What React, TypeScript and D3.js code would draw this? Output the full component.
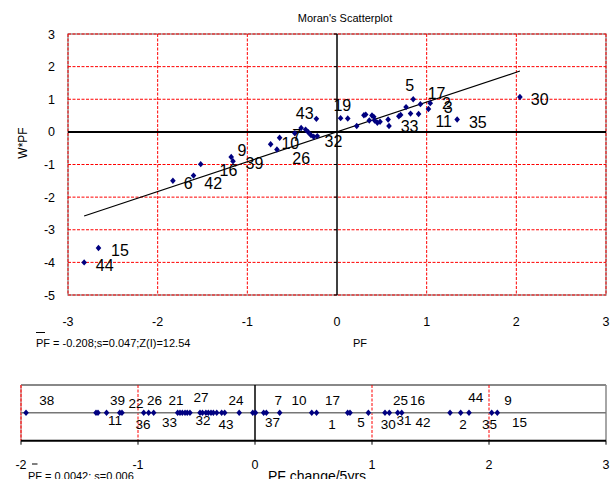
import React from "react";
import * as d3 from "d3";

// ---------- data ----------
const pfValues = [-2.82, -2.66, -1.83, -1.6, -1.52, -1.18, -1.16, -0.74, -0.67, -0.64, -0.47, -0.4, -0.35, -0.32, -0.29, -0.26, -0.22, -0.23, 0.04, 0.12, 0.22, 0.3, 0.32, 0.36, 0.39, 0.41, 0.42, 0.45, 0.48, 0.57, 0.58, 0.69, 0.71, 0.77, 0.82, 0.85, 0.91, 0.93, 1.02, 1.04, 1.34, 2.04];
const wpfValues = [-4.0, -3.56, -1.5, -1.34, -0.99, -0.77, -0.9, -0.38, -0.54, -0.18, -0.04, 0.12, 0.07, -0.01, -0.1, -0.15, -0.13, 0.4, 0.42, 0.41, 0.18, 0.51, 0.53, 0.35, 0.5, 0.46, 0.35, 0.28, 0.31, 0.38, 0.18, 0.48, 0.52, 0.76, 0.56, 1.0, 0.55, 0.85, 0.7, 0.88, 0.38, 1.07];
const moranSlope = 0.914;

// labels of the scatter (text, position in data units)
const scatterLabelText = ["44", "15", "6", "42", "16", "9", "39", "10", "26", "7", "43", "32", "19", "5", "17", "2", "3", "11", "33", "35", "30"];
const scatterLabelX = [-2.59, -2.42, -1.66, -1.38, -1.21, -1.06, -0.92, -0.52, -0.4, -0.45, -0.36, -0.04, 0.06, 0.81, 1.11, 1.22, 1.24, 1.19, 0.81, 1.57, 2.26];
const scatterLabelY = [-4.08, -3.62, -1.57, -1.57, -1.19, -0.56, -0.96, -0.36, -0.81, -0.1, 0.58, -0.28, 0.82, 1.43, 1.19, 0.88, 0.74, 0.34, 0.17, 0.31, 0.99];

const xTicksTop = [-3, -2, -1, 0, 1, 2, 3];
const yTicksTop = [3, 2, 1, 0, -1, -2, -3, -4, -5];

// PF change / 5yrs strip
const changeValues = [-1.957, -1.359, -1.342, -1.269, -1.156, -1.137, -0.951, -0.909, -0.866, -0.661, -0.641, -0.621, -0.598, -0.579, -0.556, -0.47, -0.449, -0.42, -0.399, -0.376, -0.356, -0.327, -0.285, -0.259, -0.135, -0.019, 0.004, 0.074, 0.097, 0.211, 0.485, 0.526, 0.792, 0.812, 0.969, 1.111, 1.148, 1.22, 1.254, 1.667, 1.758, 1.829, 2.023, 2.071];
const stripLabelText = ["38", "39", "22", "26", "21", "27", "24", "7", "10", "17", "25", "16", "44", "9", "11", "36", "33", "32", "43", "37", "1", "5", "30", "31", "42", "2", "35", "15"];
const stripLabelAt = [-1.78, -1.175, -1.017, -0.859, -0.675, -0.462, -0.162, 0.199, 0.376, 0.662, 1.244, 1.389, 1.887, 2.162, -1.197, -0.957, -0.731, -0.444, -0.248, 0.15, 0.658, 0.906, 1.139, 1.274, 1.436, 1.778, 2.004, 2.261];
// vertical offset of each label from the strip line (px)
const stripLabelDy = [-13, -13, -9.5, -13, -13, -16, -13, -13, -13, -13, -13, -13, -16, -13, 7, 11, 9, 7, 11.5, 9, 11, 9, 11, 7, 9, 11, 11, 9];
const stripTicks = [-2, -1, 0, 1, 2, 3];

const FONT = "'Liberation Sans', Arial, sans-serif";
const RED = "#ff0000";
const NAVY = "#000080";

function diamond(x: number, y: number) {
  return `M${x},${y - 3.2}L${x + 2.8},${y}L${x},${y + 3.2}L${x - 2.8},${y}Z`;
}

export default function App() {
  const xTop = d3.scaleLinear().domain([-3, 3]).range([68, 606]);
  const yTop = d3.scaleLinear().domain([-5, 3]).range([295, 34]);
  const xStrip = d3.scaleLinear().domain([-2, 3]).range([21, 606]);
  const stripTop = 385;
  const stripMid = 412.7;
  const stripBottom = 440.7;

  const xMin = d3.min(pfValues) as number;
  const xMax = d3.max(pfValues) as number;
  const line = d3.line<number>().x((d) => xTop(d)).y((d) => yTop(moranSlope * d));

  return (
    <svg width={615} height={479} style={{ position: "absolute", left: 0, top: 0, background: "#fff" }} fontFamily={FONT}>
      <rect x={0} y={0} width={615} height={479} fill="#fff" />
      {/* title */}
      <text x={345} y={21.5} fontSize={11} textAnchor="middle">Moran's Scatterplot</text>

      {/* plot border */}
      <rect x={xTop(-3)} y={yTop(3)} width={xTop(3) - xTop(-3)} height={yTop(-5) - yTop(3)} fill="none" stroke="#999" strokeWidth={1.5} />
      {/* gridlines */}
      {xTicksTop.filter((t) => t !== 0).map((t) => (
        <line key={"gx" + t} x1={xTop(t)} x2={xTop(t)} y1={yTop(3)} y2={yTop(-5)} stroke={RED} strokeWidth={1} strokeDasharray="3,1.5" />
      ))}
      {yTicksTop.filter((t) => t !== 0).map((t) => (
        <line key={"gy" + t} x1={xTop(-3)} x2={xTop(3)} y1={yTop(t)} y2={yTop(t)} stroke={RED} strokeWidth={1} strokeDasharray="3,1.5" />
      ))}
      {/* axes through origin */}
      <line x1={xTop(0)} x2={xTop(0)} y1={yTop(3)} y2={yTop(-5)} stroke="#000" strokeWidth={1.5} />
      <line x1={xTop(-3)} x2={xTop(3)} y1={yTop(0)} y2={yTop(0)} stroke="#000" strokeWidth={2} />
      {yTicksTop.map((t) => (
        <line key={"ty" + t} x1={xTop(0) - 3} x2={xTop(0)} y1={yTop(t)} y2={yTop(t)} stroke="#000" strokeWidth={1} />
      ))}
      {/* tick labels */}
      {yTicksTop.map((t) => (
        <text key={"ly" + t} x={55} y={yTop(t)} dy="0.36em" fontSize={12.5} textAnchor="end">{t}</text>
      ))}
      {xTicksTop.map((t) => (
        <text key={"lx" + t} x={xTop(t)} y={326} fontSize={12.5} textAnchor="middle">{t}</text>
      ))}
      <text transform="translate(27,143) rotate(-90)" fontSize={12} textAnchor="middle">W*PF</text>
      <text x={360} y={347} fontSize={11} textAnchor="middle">PF</text>
      <line x1={36} x2={45} y1={332.5} y2={332.5} stroke="#000" strokeWidth={1} />
      <text x={36} y={347} fontSize={11}>PF = -0.208;s=0.047;Z(I)=12.54</text>

      {/* regression line */}
      <path d={line([xMin, xMax]) as string} fill="none" stroke="#000" strokeWidth={1.2} />
      {/* points */}
      {pfValues.map((v, i) => (
        <path key={"p" + i} d={diamond(xTop(v), yTop(wpfValues[i]))} fill={NAVY} />
      ))}
      {scatterLabelText.map((t, i) => (
        <text key={"sl" + i} x={xTop(scatterLabelX[i])} y={yTop(scatterLabelY[i])} dy="0.36em" fontSize={16} textAnchor="middle">{t}</text>
      ))}

      {/* strip */}
      <line x1={xStrip(-2)} x2={xStrip(3)} y1={stripTop} y2={stripTop} stroke="#888" strokeWidth={2} />
      <line x1={xStrip(3)} x2={xStrip(3)} y1={stripTop} y2={stripBottom} stroke="#888" strokeWidth={1.5} />
      <line x1={xStrip(-2)} x2={xStrip(-2)} y1={stripTop} y2={stripBottom} stroke="#c88" strokeWidth={1.5} />
      {stripTicks.filter((t) => t !== 0 && t !== 3).map((t) => (
        <line key={"sg" + t} x1={xStrip(t)} x2={xStrip(t)} y1={stripTop} y2={stripBottom} stroke={RED} strokeWidth={1} strokeDasharray="3,1.5" />
      ))}
      <line x1={xStrip(-2)} x2={xStrip(3)} y1={stripMid} y2={stripMid} stroke="#777" strokeWidth={1.5} />
      <line x1={xStrip(0)} x2={xStrip(0)} y1={stripTop} y2={stripBottom} stroke="#000" strokeWidth={1.5} />
      <line x1={xStrip(-2)} x2={xStrip(3)} y1={stripBottom} y2={stripBottom} stroke="#000" strokeWidth={2} />
      {stripTicks.map((t) => (
        <line key={"st" + t} x1={xStrip(t)} x2={xStrip(t)} y1={stripBottom} y2={stripBottom + 4} stroke="#000" strokeWidth={1} />
      ))}
      {changeValues.map((v, i) => (
        <path key={"c" + i} d={diamond(xStrip(v), stripMid)} fill={NAVY} />
      ))}
      {stripLabelText.map((t, i) => (
        <text key={"stl" + i} x={xStrip(stripLabelAt[i])} y={stripMid + stripLabelDy[i]} dy="0.36em" fontSize={13.5} textAnchor="middle">{t}</text>
      ))}
      {stripTicks.map((t) => (
        <text key={"stx" + t} x={xStrip(t)} y={468.5} fontSize={12.5} textAnchor="middle">{t}</text>
      ))}
      <line x1={32} x2={37.5} y1={464} y2={464} stroke="#000" strokeWidth={1} />
      <text x={28} y={480} fontSize={11}>PF = 0.0042; s=0.006</text>
      <text x={268} y={480.5} fontSize={14}>PF change/5yrs</text>
    </svg>
  );
}
